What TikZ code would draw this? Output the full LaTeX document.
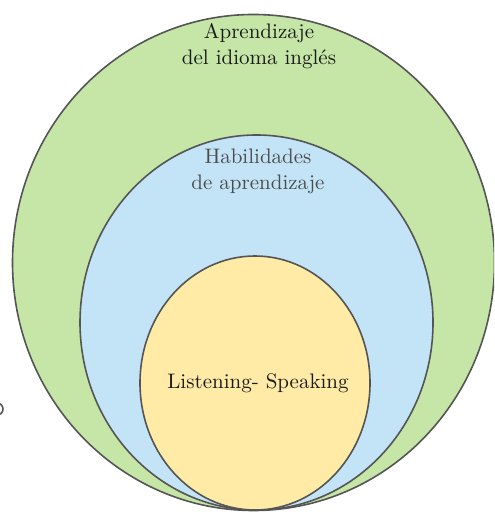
\documentclass[tikz,border=0pt]{standalone}
\usepackage{tikz}
\usetikzlibrary{positioning}
\definecolor{outergreen}{HTML}{C5E6A7}
\definecolor{midblue}{HTML}{C3E3F6}
\definecolor{coreyellow}{HTML}{FFEAA6}
\definecolor{rimgray}{HTML}{555555}
\begin{document}
\begin{tikzpicture}[x=0.5pt,y=-0.5pt,
		rim/.style={draw=rimgray,line width=0.8pt},
		lbl/.style={align=center,font=\fontsize{10.5}{13}\selectfont,inner sep=0pt}]
		\useasboundingbox (0,0) rectangle (494,512);
		\clip (0,0) rectangle (494,512);
		\draw[rim] (-3,409) circle (6);
		\filldraw[rim,fill=outergreen] (253.5,262.5) ellipse [x radius=241,y radius=248];
		\filldraw[rim,fill=midblue] (256.5,322.5) ellipse [x radius=176.5,y radius=187.5];
		\filldraw[rim,fill=coreyellow] (255,383) ellipse [x radius=115,y radius=127];
		
		\node[lbl,text=black!90] (lang) at (259,46) {Aprendizaje\\del idioma inglés};
		\node[lbl,text=black!70] (skills) at (258,171) {Habilidades\\de aprendizaje};
		\node[lbl,text=black!90] (core) at (258,383) {Listening- Speaking};
	\end{tikzpicture}
\end{document}
